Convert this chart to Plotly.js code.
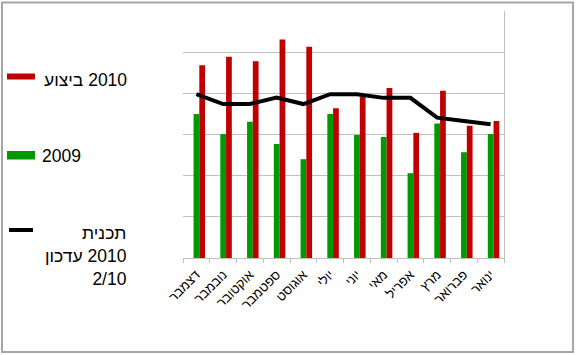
<!DOCTYPE html>
<html>
<head>
<meta charset="utf-8">
<script src="https://cdn.plot.ly/plotly-3.0.1.min.js"></script>
<style>html,body{margin:0;padding:0;background:#fff;}#chart{width:576px;height:355px;}</style>
</head>
<body>
<div id="chart"></div>
<script>
// Categories in display order (left to right)
const months = ["דצמבר","נובמבר","אוקטובר","ספטמבר","אוגוסט","יולי","יוני","מאי","אפריל","מרץ","פברואר","ינואר"];
// Values (gridline units)
const actual2010 = [4.68, 4.89, 4.78, 5.31, 5.13, 3.64, 3.92, 4.13, 3.04, 4.06, 3.21, 3.33];
const values2009 = [3.50, 3.01, 3.31, 2.77, 2.40, 3.50, 2.99, 2.94, 2.06, 3.27, 2.57, 3.01];
const plan2010 = [3.98, 3.74, 3.74, 3.90, 3.74, 3.98, 3.98, 3.89, 3.89, 3.41, 3.33, 3.25];
const legendNames = ["ביצוע\u200E 2010", "2009", "תכנית<br>עדכון\u200E 2010<br>2/10"];

const FONT = "Liberation Sans, Arial, DejaVu Sans, sans-serif";
const L = 183, R = 504, T = 11, B = 258;
const px = v => (v - L) / (R - L);
const py = v => (B - v) / (B - T);

const traces = [
  {type: "bar", x: months, y: values2009, name: legendNames[1], marker: {color: "#009900"}, offset: -0.105, width: 0.215, hoverinfo: "none"},
  {type: "bar", x: months, y: actual2010, name: legendNames[0], marker: {color: "#c00000"}, offset: 0.11, width: 0.215, hoverinfo: "none"},
  {type: "scatter", mode: "lines", x: months, y: plan2010, name: legendNames[2], line: {color: "#000000", width: 4}, hoverinfo: "none"}
];

const grayBorder = "#a6a6a6";
const layout = {
  width: 576, height: 355,
  margin: {l: L, r: 576 - R, t: T, b: 355 - B, pad: 0},
  paper_bgcolor: "#ffffff", plot_bgcolor: "#ffffff",
  showlegend: false,
  barmode: "overlay",
  font: {family: FONT, color: "#000000"},
  xaxis: {
    type: "category", categoryorder: "array", categoryarray: months,
    showline: true, linecolor: "#bfbfbf", linewidth: 1,
    ticks: "outside", tickson: "boundaries", ticklen: 4, tickcolor: "#bfbfbf",
    ticklabelstandoff: 3,
    tickangle: -45, tickfont: {family: FONT, size: 13, color: "#000"},
    showgrid: false, zeroline: false, fixedrange: true
  },
  yaxis: {
    range: [0, 6], dtick: 1, tick0: 0, side: "right",
    showgrid: true, gridcolor: "#c0c0c0", gridwidth: 1,
    showline: true, linecolor: "#bfbfbf", linewidth: 1,
    showticklabels: false, ticks: "", zeroline: false, fixedrange: true
  },
  shapes: [
    {type: "rect", xref: "paper", yref: "paper", x0: px(2), x1: px(573), y0: py(352), y1: py(2.5), line: {color: grayBorder, width: 2}, fillcolor: "rgba(0,0,0,0)", layer: "above"},
    {type: "rect", xref: "paper", yref: "paper", x0: px(7), x1: px(35), y0: py(79.5), y1: py(73.5), line: {width: 0}, fillcolor: "#c00000", layer: "above"},
    {type: "rect", xref: "paper", yref: "paper", x0: px(7), x1: px(35), y0: py(159.5), y1: py(151), line: {width: 0}, fillcolor: "#009900", layer: "above"},
    {type: "line", xref: "paper", yref: "paper", x0: px(9), x1: px(33), y0: py(230), y1: py(230), line: {color: "#000", width: 4}, layer: "above"}
  ],
  annotations: [
    {xref: "paper", yref: "paper", x: px(129), y: py(79.5), xanchor: "right", yanchor: "middle", text: legendNames[0], showarrow: false, align: "right", font: {family: FONT, size: 17.5, color: "#000"}},
    {xref: "paper", yref: "paper", x: px(83), y: py(156), xanchor: "right", yanchor: "middle", text: legendNames[1], showarrow: false, align: "right", font: {family: FONT, size: 17.5, color: "#000"}},
    {xref: "paper", yref: "paper", x: px(129), y: py(256), xanchor: "right", yanchor: "middle", text: legendNames[2], showarrow: false, align: "right", font: {family: FONT, size: 17.5, color: "#000"}}
  ]
};

Plotly.newPlot("chart", traces, layout, {displayModeBar: false, staticPlot: true});
</script>
</body>
</html>
